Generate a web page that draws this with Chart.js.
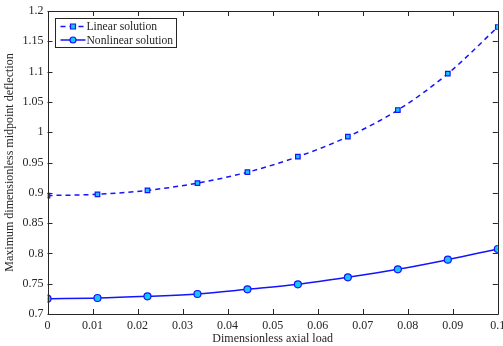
<!DOCTYPE html>
<html>
<head>
<meta charset="utf-8">
<script src="https://cdn.jsdelivr.net/npm/chart.js@4/dist/chart.umd.min.js"></script>
<style>
html,body{margin:0;padding:0;background:#fff;}
#wrap{width:503px;height:346px;position:relative;}
</style>
</head>
<body>
<div id="wrap"><canvas id="c" width="503" height="346"></canvas></div>
<script>
const axialLoad = [0, 0.0111, 0.0222, 0.0333, 0.0444, 0.0556, 0.0667, 0.0778, 0.0889, 0.1];
const linearSolution = [0.8955, 0.8975, 0.904, 0.916, 0.934, 0.9596, 0.9926, 1.0366, 1.0966, 1.1736];
const nonlinearSolution = [0.7253, 0.7264, 0.7292, 0.733, 0.7407, 0.749, 0.7605, 0.7737, 0.7896, 0.8073];
const xTicks = [0, 0.01, 0.02, 0.03, 0.04, 0.05, 0.06, 0.07, 0.08, 0.09, 0.1];
const yTicks = [0.7, 0.75, 0.8, 0.85, 0.9, 0.95, 1, 1.05, 1.1, 1.15, 1.2];
const seriesNames = ['Linear solution', 'Nonlinear solution'];

const FONT = "'Liberation Serif', 'Times New Roman', serif";
const TXT = '#262626';
const LINE = '#1414ff';
const FILL = '#14c8f5';

const toPts = (ys) => axialLoad.map((x, i) => ({x, y: ys[i]}));
const fmt = v => (+(+v).toFixed(4)).toString();

const boxTicks = {
  id: 'boxTicks',
  afterDraw(chart) {
    const {ctx, chartArea: a, scales: {x, y}} = chart;
    ctx.save();
    ctx.strokeStyle = TXT;
    ctx.lineWidth = 1;
    ctx.beginPath();
    ctx.rect(Math.round(a.left) + 0.5, Math.round(a.top) + 0.5, Math.round(a.right - a.left), Math.round(a.bottom - a.top));
    ctx.stroke();
    const L = 5;
    ctx.beginPath();
    xTicks.forEach(t => {
      const px = Math.round(x.getPixelForValue(t)) + 0.5;
      ctx.moveTo(px, a.bottom); ctx.lineTo(px, a.bottom - L);
      ctx.moveTo(px, a.top); ctx.lineTo(px, a.top + L);
    });
    yTicks.forEach(t => {
      const py = Math.round(y.getPixelForValue(t)) + 0.5;
      ctx.moveTo(a.left, py); ctx.lineTo(a.left + L, py);
      ctx.moveTo(a.right, py); ctx.lineTo(a.right - L, py);
    });
    ctx.stroke();

    // legend inside top-left
    const lx = Math.round(a.left) + 7.5, ly = Math.round(a.top) + 7.5, lw = 121, lh = 29;
    ctx.fillStyle = '#fff';
    ctx.fillRect(lx, ly, lw, lh);
    ctx.strokeStyle = TXT;
    ctx.lineWidth = 1;
    ctx.strokeRect(lx, ly, lw, lh);
    ctx.font = '11.6px ' + FONT;
    ctx.textBaseline = 'middle';
    chart.data.datasets.forEach((ds, i) => {
      const cy = ly + 8 + i * 13.5;
      ctx.strokeStyle = ds.borderColor;
      ctx.lineWidth = ds.borderWidth;
      ctx.setLineDash(ds.borderDash || []);
      ctx.beginPath();
      ctx.moveTo(lx + 5, cy); ctx.lineTo(lx + 30, cy);
      ctx.stroke();
      ctx.setLineDash([]);
      ctx.fillStyle = ds.pointBackgroundColor;
      ctx.lineWidth = 1.2;
      ctx.beginPath();
      if (ds.pointStyle === 'rect') {
        ctx.rect(lx + 17.5 - 2.5, cy - 2.5, 5, 5);
      } else {
        ctx.arc(lx + 17.5, cy, 3, 0, Math.PI * 2);
      }
      ctx.fill(); ctx.stroke();
      ctx.fillStyle = TXT;
      ctx.textAlign = 'left';
      ctx.fillText(ds.label, lx + 31, cy + 0.5);
    });
    ctx.restore();
  }
};

new Chart(document.getElementById('c'), {
  type: 'line',
  data: {
    datasets: [
      {
        label: seriesNames[0],
        data: toPts(linearSolution),
        borderColor: LINE,
        borderWidth: 1.5,
        borderDash: [5, 4],
        pointStyle: 'rect',
        pointRadius: 3.2,
        pointBorderWidth: 1.2,
        pointBackgroundColor: FILL,
        pointBorderColor: LINE,
        cubicInterpolationMode: 'monotone',
        fill: false
      },
      {
        label: seriesNames[1],
        data: toPts(nonlinearSolution),
        borderColor: LINE,
        borderWidth: 1.5,
        pointStyle: 'circle',
        pointRadius: 3.5,
        pointBorderWidth: 1.2,
        pointBackgroundColor: FILL,
        pointBorderColor: LINE,
        cubicInterpolationMode: 'monotone',
        fill: false
      }
    ]
  },
  options: {
    responsive: false,
    animation: false,
    devicePixelRatio: 1,
    layout: {padding: {left: 0, right: 5, top: 11, bottom: 0}},
    plugins: {legend: {display: false}, tooltip: {enabled: false}},
    scales: {
      x: {
        type: 'linear', min: 0, max: 0.1,
        afterBuildTicks: s => { s.ticks = xTicks.map(v => ({value: v})); },
        afterFit: s => { s.height = 32; s.paddingLeft = 0; s.paddingRight = 0; },
        grid: {display: false, drawTicks: false},
        border: {display: false},
        ticks: {color: TXT, font: {family: FONT, size: 12}, padding: 5, maxRotation: 0, callback: v => fmt(v)},
        title: {display: true, text: 'Dimensionless axial load', color: TXT, font: {family: FONT, size: 12}, padding: {top: 0, bottom: 0}}
      },
      y: {
        type: 'linear', min: 0.7, max: 1.2,
        afterBuildTicks: s => { s.ticks = yTicks.map(v => ({value: v})); },
        afterFit: s => { s.width = 47.5; s.paddingTop = 0; s.paddingBottom = 0; },
        grid: {display: false, drawTicks: false},
        border: {display: false},
        ticks: {color: TXT, font: {family: FONT, size: 12}, padding: 4, callback: v => fmt(v)},
        title: {display: true, text: 'Maximum dimensionless midpoint deflection', color: TXT, font: {family: FONT, size: 12}, padding: {top: 3, bottom: 0}}
      }
    }
  },
  plugins: [boxTicks]
});
</script>
</body>
</html>
